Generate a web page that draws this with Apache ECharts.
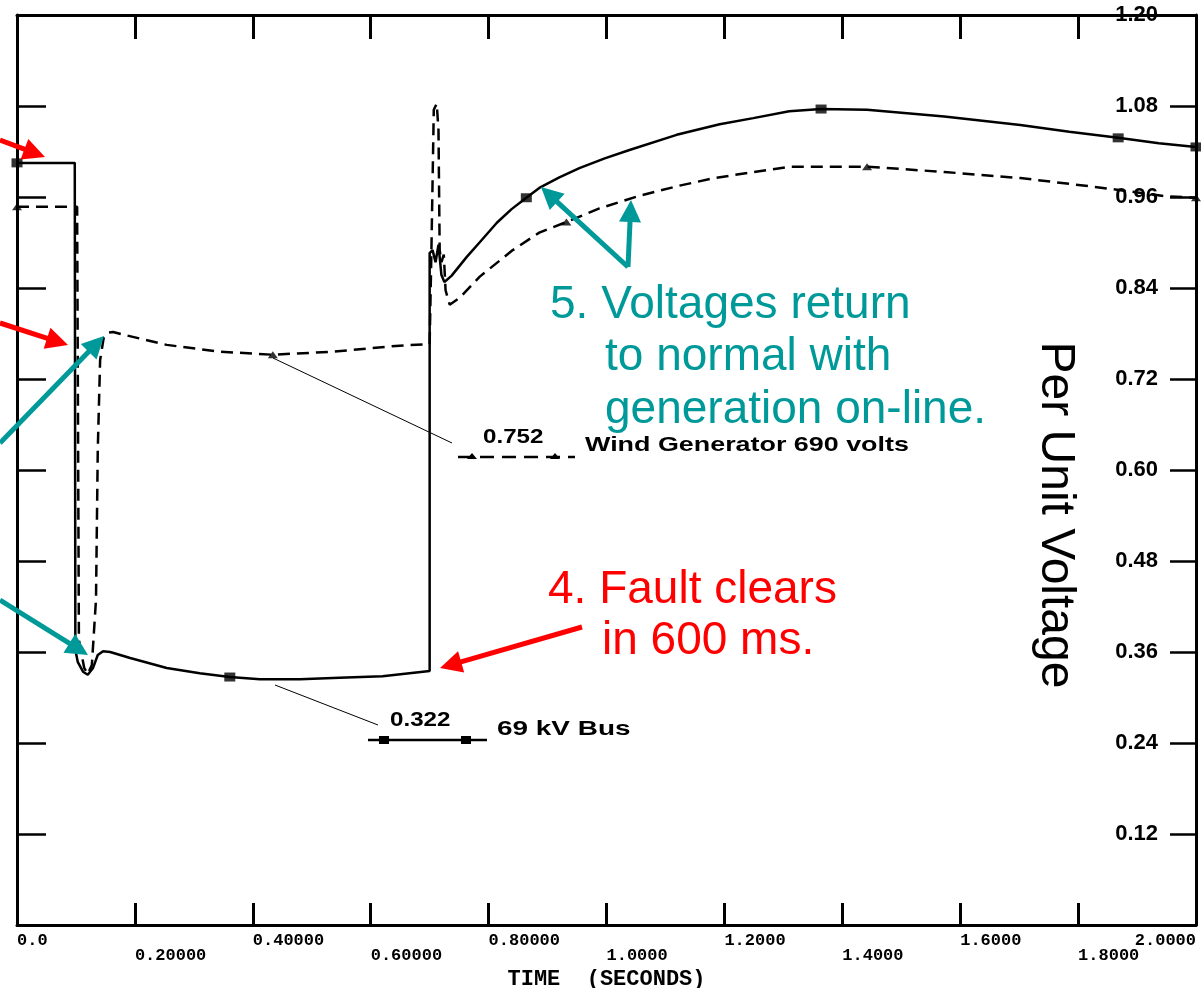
<!DOCTYPE html>
<html>
<head>
<meta charset="utf-8">
<script src="https://cdn.jsdelivr.net/npm/echarts@6/dist/echarts.min.js"></script>
<style>
  html, body { margin: 0; padding: 0; background: #fff; }
  #chart { width: 1201px; height: 988px; }
</style>
</head>
<body>
<div id="chart"></div>
<script>
var chart = echarts.init(document.getElementById("chart"));

// tick labels
var xTickLabels = ["0.0", "0.20000", "0.40000", "0.60000", "0.80000", "1.0000",
                   "1.2000", "1.4000", "1.6000", "1.8000", "2.0000"];
var yTickLabels = ["", "0.12", "0.24", "0.36", "0.48", "0.60", "0.72", "0.84", "0.96", "1.08", "1.20"];

// 69 kV Bus (solid) [time s, per unit]
var busVolts = [
  [0, 1.005], [0.098, 1.005], [0.099, 0.363], [0.103, 0.347], [0.112, 0.334],
  [0.120, 0.330], [0.129, 0.339], [0.137, 0.356], [0.146, 0.361], [0.158, 0.360],
  [0.192, 0.352], [0.254, 0.339], [0.310, 0.332], [0.361, 0.327], [0.412, 0.324],
  [0.480, 0.324], [0.547, 0.326], [0.620, 0.328], [0.700, 0.335], [0.700, 0.886],
  [0.705, 0.890], [0.710, 0.874], [0.715, 0.897], [0.720, 0.857], [0.725, 0.848],
  [0.737, 0.856], [0.763, 0.881], [0.788, 0.903], [0.814, 0.926], [0.839, 0.944],
  [0.864, 0.959], [0.886, 0.972], [0.920, 0.986], [0.954, 0.998], [0.997, 1.011],
  [1.039, 1.022], [1.119, 1.042], [1.192, 1.056], [1.249, 1.064], [1.310, 1.073],
  [1.364, 1.076], [1.442, 1.075], [1.573, 1.066], [1.702, 1.055], [1.785, 1.046],
  [1.868, 1.038], [1.937, 1.031], [2.0, 1.026]
];
var busMarkers = [[0, 1.005], [0.361, 0.327], [0.864, 0.959], [1.364, 1.076], [1.868, 1.038], [2.0, 1.026]];

// Wind Generator 690 volts (dashed)
var genVolts = [
  [0, 0.947], [0.102, 0.947], [0.105, 0.376], [0.114, 0.339], [0.120, 0.331],
  [0.127, 0.343], [0.134, 0.429], [0.137, 0.626], [0.141, 0.745], [0.147, 0.774],
  [0.154, 0.781], [0.163, 0.782], [0.183, 0.778], [0.254, 0.765], [0.344, 0.756],
  [0.434, 0.752], [0.536, 0.756], [0.649, 0.764], [0.700, 0.766], [0.703, 0.890],
  [0.707, 1.075], [0.712, 1.083], [0.715, 1.048], [0.717, 0.890], [0.720, 0.874],
  [0.724, 0.884], [0.727, 0.837], [0.734, 0.818], [0.751, 0.827], [0.785, 0.855],
  [0.841, 0.890], [0.886, 0.913], [0.932, 0.927], [0.988, 0.945], [1.053, 0.961],
  [1.124, 0.975], [1.183, 0.985], [1.259, 0.994], [1.314, 1.000], [1.442, 1.000],
  [1.573, 0.993], [1.702, 0.985], [1.832, 0.973], [1.949, 0.961], [2.0, 0.959]
];
var genMarkers = [[0, 0.947], [0.434, 0.752], [0.932, 0.927], [1.442, 1.000], [2.0, 0.959]];

var TEAL = "#009999";
var RED = "#ff0000";
var SANS = '"Liberation Sans", Arial, sans-serif';
var MONO = '"Liberation Mono", "DejaVu Sans Mono", monospace';

// arrow = shaft + triangular head
function arrow(x1, y1, x2, y2, color) {
  var dx = x2 - x1, dy = y2 - y1, len = Math.sqrt(dx * dx + dy * dy);
  var ux = dx / len, uy = dy / len;
  var hl = 22, hw = 11;
  var bx = x2 - ux * hl, by = y2 - uy * hl;
  return [
    { type: "line", shape: { x1: x1, y1: y1, x2: bx + ux * 2, y2: by + uy * 2 },
      style: { stroke: color, lineWidth: 5 }, z: 100 },
    { type: "polygon", shape: { points: [[x2, y2], [bx - uy * hw, by + ux * hw], [bx + uy * hw, by - ux * hw]] },
      style: { fill: color }, z: 100 }
  ];
}

function label(text, x, y, size, color, opts) {
  var el = {
    type: "text", x: x, y: y, z: 100,
    style: { text: text, fontSize: size, fontFamily: SANS, fill: color, align: "left", verticalAlign: "middle" }
  };
  if (opts) {
    if (opts.bold) el.style.fontWeight = "bold";
    if (opts.scaleX) el.scaleX = opts.scaleX;
  }
  return el;
}

var graphics = [];
graphics = graphics.concat(arrow(0, 140, 45, 157, RED));
graphics = graphics.concat(arrow(0, 323, 68, 345, RED));
graphics = graphics.concat(arrow(582, 627, 440, 668, RED));
graphics = graphics.concat(arrow(0, 443, 104, 336, TEAL));
graphics = graphics.concat(arrow(0, 600, 88, 655, TEAL));
graphics = graphics.concat(arrow(628, 267, 541, 187, TEAL));
graphics = graphics.concat(arrow(628, 267, 631, 200, TEAL));

graphics.push(label("5. Voltages return", 550, 305, 46, TEAL));
graphics.push(label("to normal with", 605, 357, 46, TEAL));
graphics.push(label("generation on-line.", 605, 410, 46, TEAL));
graphics.push(label("4. Fault clears", 548, 590, 46, RED));
graphics.push(label("in 600 ms.", 602, 641, 46, RED));

// series keys and value tags
graphics.push({ type: "line", shape: { x1: 273, y1: 358, x2: 452, y2: 443 }, style: { stroke: "#000", lineWidth: 1 } });
graphics.push({ type: "line", shape: { x1: 275, y1: 685, x2: 378, y2: 725 }, style: { stroke: "#000", lineWidth: 1 } });
graphics.push({ type: "line", shape: { x1: 458, y1: 457, x2: 575, y2: 457 }, style: { stroke: "#000", lineWidth: 2.5, lineDash: [14, 8] } });
graphics.push({ type: "polygon", shape: { points: [[472, 453], [467, 459], [477, 459]] }, style: { fill: "#000" } });
graphics.push({ type: "polygon", shape: { points: [[555, 453], [550, 459], [560, 459]] }, style: { fill: "#000" } });
graphics.push({ type: "line", shape: { x1: 368, y1: 740, x2: 487, y2: 740 }, style: { stroke: "#000", lineWidth: 2.5 } });
graphics.push({ type: "rect", shape: { x: 379, y: 736, width: 10, height: 8 }, style: { fill: "#000" } });
graphics.push({ type: "rect", shape: { x: 461, y: 736, width: 10, height: 8 }, style: { fill: "#000" } });
graphics.push(label("0.752", 483, 437, 21, "#000", { bold: true, scaleX: 1.15 }));
graphics.push(label("Wind Generator 690 volts", 585, 445, 21, "#000", { bold: true, scaleX: 1.28 }));
graphics.push(label("0.322", 390, 720, 21, "#000", { bold: true, scaleX: 1.15 }));
graphics.push(label("69 kV Bus", 497, 729, 21, "#000", { bold: true, scaleX: 1.33 }));

// y axis title, reads top to bottom
graphics.push({
  type: "text", x: 1055, y: 515, rotation: -Math.PI / 2, z: 100,
  style: { text: "Per Unit Voltage", fontSize: 48, fontFamily: SANS, fill: "#000", align: "center", verticalAlign: "middle" }
});

var frameLine = { show: true, onZero: false, lineStyle: { color: "#000", width: 3 } };

var option = {
  animation: false,
  backgroundColor: "#fff",
  grid: { left: 17, right: 5, top: 15, bottom: 63, containLabel: false, outerBoundsMode: "none" },
  xAxis: [
    {
      type: "value", position: "bottom", min: 0, max: 2, interval: 0.2,
      axisLine: frameLine,
      axisTick: { show: true, inside: true, length: 22, lineStyle: { color: "#000", width: 3 } },
      axisLabel: {
        show: true, margin: 7, color: "#000", fontFamily: MONO, fontSize: 17, fontWeight: "bold",
        align: "left", alignMaxLabel: "right", showMinLabel: true, showMaxLabel: true,
        formatter: function (v, i) { return i % 2 === 0 ? xTickLabels[i] : ""; }
      },
      splitLine: { show: false }
    },
    {
      type: "value", position: "bottom", min: 0, max: 2, interval: 0.2,
      axisLine: { show: false, onZero: false }, axisTick: { show: false },
      axisLabel: {
        show: true, margin: 22, color: "#000", fontFamily: MONO, fontSize: 17, fontWeight: "bold",
        align: "left", showMinLabel: true, showMaxLabel: true,
        formatter: function (v, i) { return i % 2 === 1 ? xTickLabels[i] : ""; }
      },
      name: "TIME  (SECONDS)", nameLocation: "middle", nameGap: 43, nameMoveOverlap: false,
      nameTextStyle: { color: "#000", fontFamily: MONO, fontSize: 22, fontWeight: "bold" },
      splitLine: { show: false }
    },
    {
      type: "value", position: "top", min: 0, max: 2, interval: 0.2,
      axisLine: frameLine,
      axisTick: { show: true, inside: true, length: 24, lineStyle: { color: "#000", width: 3 } },
      axisLabel: { show: false }, splitLine: { show: false }
    }
  ],
  yAxis: [
    {
      type: "value", position: "right", min: 0, max: 1.2, interval: 0.12,
      axisLine: frameLine,
      axisTick: { show: true, inside: true, length: 26, lineStyle: { color: "#000", width: 2.5 } },
      axisLabel: {
        show: true, inside: true, margin: 38, color: "#000", fontFamily: SANS, fontSize: 22, fontWeight: "bold",
        formatter: function (v, i) { return yTickLabels[i]; }
      },
      splitLine: { show: false }
    },
    {
      type: "value", position: "left", min: 0, max: 1.2, interval: 0.12,
      axisLine: frameLine,
      axisTick: { show: true, inside: true, length: 29, lineStyle: { color: "#000", width: 2.5 } },
      axisLabel: { show: false }, splitLine: { show: false }
    }
  ],
  series: [
    {
      name: "69 kV Bus", type: "line", xAxisIndex: 0, yAxisIndex: 0,
      data: busVolts, showSymbol: false, clip: false,
      lineStyle: { color: "#000", width: 2.5 }, z: 5
    },
    {
      name: "Wind Generator 690 volts", type: "line", xAxisIndex: 0, yAxisIndex: 0,
      data: genVolts, showSymbol: false, clip: false,
      lineStyle: { color: "#000", width: 2.5, type: [12, 7] }, z: 5
    },
    {
      type: "scatter", xAxisIndex: 0, yAxisIndex: 0, data: busMarkers,
      symbol: "rect", symbolSize: [11, 9], itemStyle: { color: "#000" }, z: 6
    },
    {
      type: "scatter", xAxisIndex: 0, yAxisIndex: 0, data: genMarkers,
      symbol: "triangle", symbolSize: [10, 7], itemStyle: { color: "#000" }, z: 6
    }
  ],
  graphic: graphics
};

chart.setOption(option);
</script>
</body>
</html>
